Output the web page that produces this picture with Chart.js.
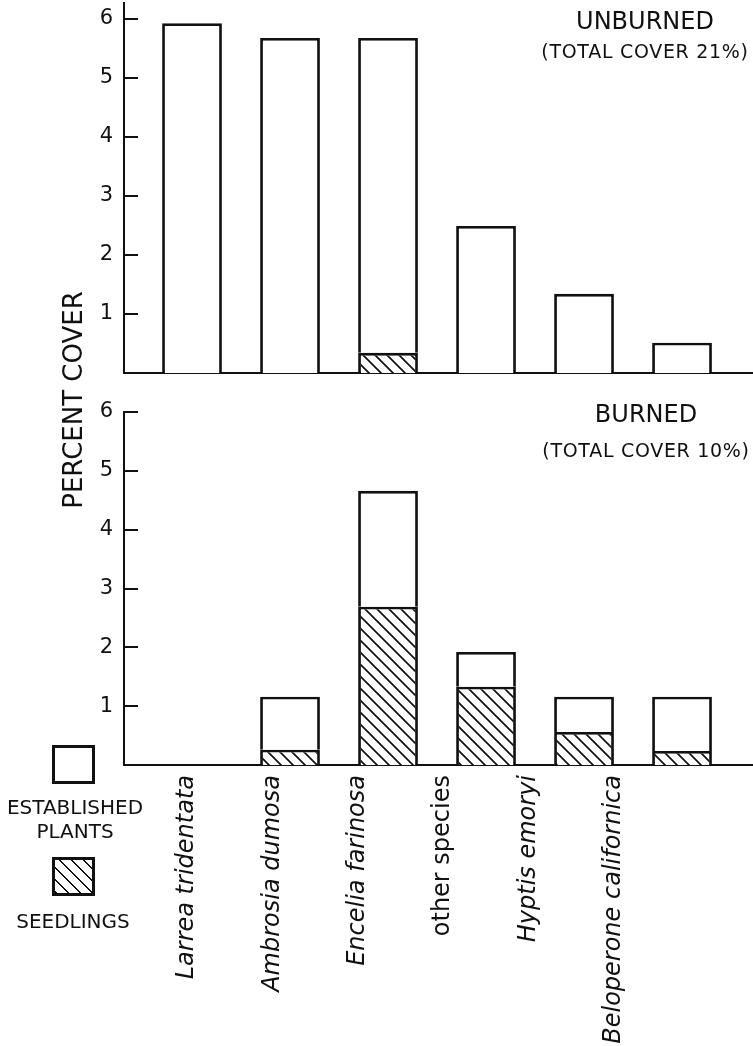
<!DOCTYPE html>
<html>
<head>
<meta charset="utf-8">
<script src="https://cdn.jsdelivr.net/npm/chart.js@4.4.1/dist/chart.umd.min.js"></script>
<style>
  html, body { margin: 0; padding: 0; background: #fff; }
  #wrap { position: relative; width: 753px; height: 1046px; overflow: hidden; font-family: 'DejaVu Sans', sans-serif; color: #111; }
  canvas { position: absolute; left: 0; }
  .txt { position: absolute; white-space: nowrap; text-align: center; line-height: 1; }
  .box { position: absolute; left: 52px; width: 43px; height: 39px; box-sizing: border-box; border: 3px solid #111; background: #fff; }
  .hatched { background: repeating-linear-gradient(45deg, #111 0 1.7px, #fff 1.7px 8.5px); }
</style>
</head>
<body>
<div id="wrap">
  <canvas id="chart-unburned" width="753" height="392" style="top:-8px"></canvas>
  <canvas id="chart-burned" width="753" height="646" style="top:400px"></canvas>

  <div class="txt" style="left:545px;width:200px;top:9px;font-size:24px">UNBURNED</div>
  <div class="txt" style="left:540px;width:210px;top:42px;font-size:19px;letter-spacing:0.7px">(TOTAL COVER 21%)</div>
  <div class="txt" style="left:546px;width:200px;top:402px;font-size:24px">BURNED</div>
  <div class="txt" style="left:541px;width:210px;top:441px;font-size:19px;letter-spacing:0.7px">(TOTAL COVER 10%)</div>

  <div class="txt" style="left:-77px;width:300px;top:387px;font-size:26px;transform:rotate(-90deg)">PERCENT COVER</div>

  <div class="box" style="top:745px"></div>
  <div class="txt" style="left:0;width:150px;top:797px;font-size:20px">ESTABLISHED</div>
  <div class="txt" style="left:0;width:150px;top:821px;font-size:20px">PLANTS</div>
  <div class="box hatched" style="top:857px"></div>
  <div class="txt" style="left:0;width:146px;top:911px;font-size:20px">SEEDLINGS</div>
</div>
<script>
/* Species along the x axis */
var species = ['Larrea tridentata', 'Ambrosia dumosa', 'Encelia farinosa', 'other species', 'Hyptis emoryi', 'Beloperone californica'];

/* Percent cover, split into established plants and seedlings */
var unburnedEstablished = [5.93, 5.68, 5.34, 2.49, 1.34, 0.51];
var unburnedSeedlings   = [0, 0, 0.34, 0, 0, 0];
var burnedEstablished   = [0, 0.90, 1.97, 0.59, 0.60, 0.92];
var burnedSeedlings     = [0, 0.26, 2.69, 1.33, 0.56, 0.24];

/* Y axis tick labels */
var yTicks = [1, 2, 3, 4, 5, 6];

var INK = '#111';
var FONT = "'DejaVu Sans', sans-serif";

function hatchPattern(ctx) {
  var c = document.createElement('canvas');
  c.width = c.height = 12;
  var g = c.getContext('2d');
  g.fillStyle = '#fff';
  g.fillRect(0, 0, 12, 12);
  g.strokeStyle = INK;
  g.lineWidth = 1.7;
  g.beginPath();
  g.moveTo(-2, -2); g.lineTo(14, 14);
  g.moveTo(-2, 10); g.lineTo(2, 14);
  g.moveTo(10, -2); g.lineTo(14, 2);
  g.stroke();
  return ctx.createPattern(c, 'repeat');
}

/* Tick marks point into the plot, as in the original figure */
var inwardTicks = {
  id: 'inwardTicks',
  afterDraw: function(chart) {
    var s = chart.scales.y, ctx = chart.ctx;
    ctx.save();
    ctx.strokeStyle = INK;
    ctx.lineWidth = 2;
    s.ticks.forEach(function(t) {
      var py = Math.round(s.getPixelForValue(t.value));
      ctx.beginPath();
      ctx.moveTo(s.right, py);
      ctx.lineTo(s.right + 14, py);
      ctx.stroke();
    });
    ctx.restore();
  }
};

function points(arr) {
  return arr.map(function(v, i) { return { x: i, y: v }; });
}

function datasets(ctx, seedlings, established) {
  var common = { borderColor: INK, borderWidth: 2.8, barPercentage: 0.61, categoryPercentage: 1, stack: 'cover' };
  return [
    Object.assign({ label: 'Seedlings', data: points(seedlings), backgroundColor: hatchPattern(ctx) }, common),
    Object.assign({ label: 'Established plants', data: points(established), backgroundColor: '#fff' }, common)
  ];
}

function barAxis(display) {
  var axis = {
    type: 'linear', min: -0.694, max: 5.714, offset: false, stacked: true, display: display,
    afterBuildTicks: function(s) { s.ticks = species.map(function(_, i) { return { value: i }; }); },
    ticks: { display: false },
    grid: { display: false, drawTicks: false },
    border: { display: true, color: INK, width: 2 }
  };
  if (display) axis.afterFit = function(s) { s.height = 7; };
  return axis;
}

function yAxis(max) {
  return {
    type: 'linear', min: 0, max: max, stacked: true,
    afterBuildTicks: function(s) { s.ticks = yTicks.map(function(v) { return { value: v }; }); },
    ticks: { color: INK, padding: 11, font: { family: FONT, size: 21, lineHeight: 0.01 } },
    grid: { display: false, drawTicks: false },
    border: { display: true, color: INK, width: 2 },
    afterFit: function(s) { s.width = 124; }
  };
}

var baseOptions = {
  responsive: false,
  animation: false,
  plugins: { legend: { display: false }, tooltip: { enabled: false } }
};

/* Chart 1: unburned */
var topCtx = document.getElementById('chart-unburned').getContext('2d');
new Chart(topCtx, {
  type: 'bar',
  data: { datasets: datasets(topCtx, unburnedSeedlings, unburnedEstablished) },
  options: Object.assign({}, baseOptions, {
    layout: { autoPadding: false, padding: { top: 3, right: 1, bottom: 0, left: 0 } },
    scales: { x: barAxis(true), y: yAxis(6.27) }
  }),
  plugins: [inwardTicks]
});

/* Chart 2: burned, carries the species labels */
var botCtx = document.getElementById('chart-burned').getContext('2d');
new Chart(botCtx, {
  type: 'bar',
  data: { datasets: datasets(botCtx, burnedSeedlings, burnedEstablished) },
  options: Object.assign({}, baseOptions, {
    layout: { autoPadding: false, padding: { top: 12, right: 1, bottom: 0, left: 0 } },
    scales: {
      x: barAxis(false),
      y: yAxis(6),
      xl: {
        type: 'linear', position: 'bottom', min: -0.738, max: 6.616, offset: false,
        afterBuildTicks: function(s) { s.ticks = species.map(function(_, i) { return { value: i }; }); },
        ticks: {
          color: INK, padding: 10, minRotation: 90, maxRotation: 90, autoSkip: false,
          callback: function(v) { return species[v]; },
          font: function(c) {
            return { family: FONT, size: 24, style: c.index === 3 ? 'normal' : 'italic' };
          }
        },
        grid: { display: false, drawTicks: false },
        border: { display: true, color: INK, width: 2 },
        afterFit: function(s) { s.height = 281; }
      }
    }
  }),
  plugins: [inwardTicks]
});
</script>
</body>
</html>
